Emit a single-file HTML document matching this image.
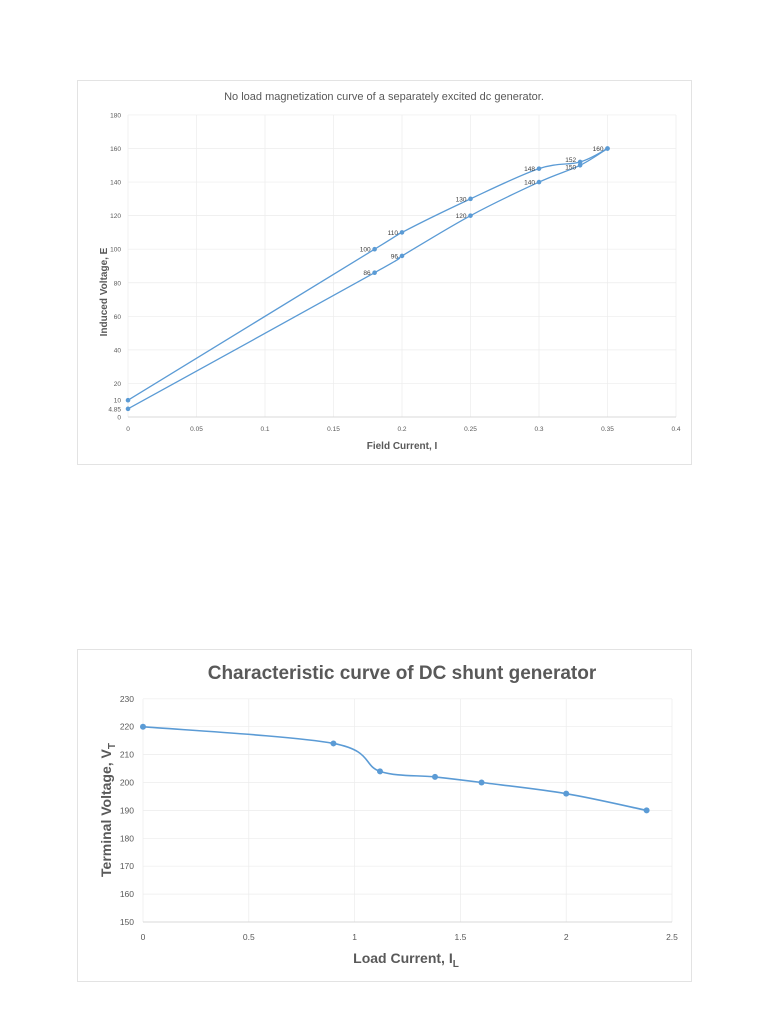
<!DOCTYPE html>
<html><head><meta charset="utf-8"><style>
html,body{margin:0;padding:0;background:#fff;}
svg{display:block;font-family:"Liberation Sans",sans-serif;}
</style></head><body>
<svg id="s" width="768" height="1024" viewBox="0 0 768 1024" xmlns="http://www.w3.org/2000/svg">
<rect x="0" y="0" width="768" height="1024" fill="#fff"/>
<rect x="77.5" y="80.5" width="614" height="384" fill="#fff" stroke="#e3e3e3"/>
<rect x="77.5" y="649.5" width="614" height="332" fill="#fff" stroke="#e3e3e3"/>
<g id="g1"></g>
<g id="g2"></g>
<text x="384" y="100" font-size="11" fill="#595959" text-anchor="middle">No load magnetization curve of a separately excited dc generator.</text>
<text x="402" y="449" font-size="10" font-weight="bold" fill="#595959" text-anchor="middle">Field Current, I</text>
<text transform="translate(107,292) rotate(-90)" font-size="10" font-weight="bold" fill="#595959" text-anchor="middle">Induced Voltage, E</text>
<text x="402" y="679" font-size="19" font-weight="bold" fill="#595959" text-anchor="middle">Characteristic curve of DC shunt generator</text>
<text x="406" y="963" font-size="14" font-weight="bold" fill="#595959" text-anchor="middle">Load Current, I<tspan font-size="10" dy="4">L</tspan></text>
<text transform="translate(111,810) rotate(-90)" font-size="14" font-weight="bold" fill="#595959" text-anchor="middle">Terminal Voltage, V<tspan font-size="10" dy="4">T</tspan></text>
</svg>
<script>
var NS="http://www.w3.org/2000/svg";
function el(p,t,a,txt){var e=document.createElementNS(NS,t);for(var k in a)e.setAttribute(k,a[k]);if(txt!==undefined)e.textContent=txt;p.appendChild(e);return e;}
function cr(pts){var d="M"+pts[0][0]+","+pts[0][1];for(var i=0;i<pts.length-1;i++){var p0=pts[i-1]||pts[i],p1=pts[i],p2=pts[i+1],p3=pts[i+2]||p2;var t=6;d+=" C"+(p1[0]+(p2[0]-p0[0])/t)+","+(p1[1]+(p2[1]-p0[1])/t)+" "+(p2[0]-(p3[0]-p1[0])/t)+","+(p2[1]-(p3[1]-p1[1])/t)+" "+p2[0]+","+p2[1];}return d;}
var g=document.getElementById("g1");
function X1(v){return 128+v*1370;} function Y1(v){return 417-v*1.678;}
for(var i=0;i<=8;i++){var x=X1(i*0.05);el(g,"line",{x1:x,x2:x,y1:115,y2:417,stroke:"#ececec","stroke-width":0.7});el(g,"text",{x:x,y:431,"font-size":6.5,fill:"#595959","text-anchor":"middle"},i==0?"0":String(+(i*0.05).toFixed(2)));}
for(var v=0;v<=180;v+=20){var y=Y1(v);el(g,"line",{x1:128,x2:676,y1:y,y2:y,stroke:"#ececec","stroke-width":0.7});if(v!=0&&v!=10)el(g,"text",{x:121,y:y+2.5,"font-size":6.5,fill:"#595959","text-anchor":"end"},v);}
el(g,"text",{x:121,y:Y1(0)+2.5,"font-size":6.5,fill:"#595959","text-anchor":"end"},"0");
el(g,"text",{x:121,y:Y1(10)+2.5,"font-size":6.5,fill:"#595959","text-anchor":"end"},"10");
el(g,"text",{x:121,y:Y1(4.85)+2.5,"font-size":6.5,fill:"#595959","text-anchor":"end"},"4.85");
el(g,"line",{x1:128,x2:676,y1:417,y2:417,stroke:"#d0d0d0","stroke-width":0.8});
var up=[[0,10],[0.18,100],[0.2,110],[0.25,130],[0.3,148],[0.33,152],[0.35,160]];
var lo=[[0,4.85],[0.18,86],[0.2,96],[0.25,120],[0.3,140],[0.33,150],[0.35,160]];
[up,lo].forEach(function(s,si){var p=s.map(function(q){return [X1(q[0]),Y1(q[1])];});el(g,"path",{d:cr(p),fill:"none",stroke:"#5b9bd5","stroke-width":1.3});p.forEach(function(q,j){el(g,"circle",{cx:q[0],cy:q[1],r:2.3,fill:"#5b9bd5"});if(s[j][0]>0&&!(si==1&&j==6))el(g,"text",{x:q[0]-4,y:q[1]+(si==0&&j==5?0:(si==1&&j==5?4:2.5)),"font-size":6.5,fill:"#404040","text-anchor":"end"},s[j][1]);});});
g=document.getElementById("g2");
function X2(v){return 143+v*211.6;} function Y2(v){return 922-(v-150)*2.79;}
for(var i=0;i<=5;i++){var x=X2(i*0.5);el(g,"line",{x1:x,x2:x,y1:699,y2:922,stroke:"#ececec","stroke-width":0.7});el(g,"text",{x:x,y:940,"font-size":8.5,fill:"#595959","text-anchor":"middle"},String(i*0.5));}
for(var v=150;v<=230;v+=10){var y=Y2(v);el(g,"line",{x1:143,x2:672,y1:y,y2:y,stroke:"#ececec","stroke-width":0.7});el(g,"text",{x:134,y:y+3,"font-size":8.5,fill:"#595959","text-anchor":"end"},v);}
el(g,"line",{x1:143,x2:672,y1:922,y2:922,stroke:"#d0d0d0","stroke-width":0.8});
var d2=[[0,220],[0.9,214],[1.12,204],[1.38,202],[1.6,200],[2,196],[2.38,190]].map(function(q){return [X2(q[0]),Y2(q[1])];});
el(g,"path",{d:cr(d2),fill:"none",stroke:"#5b9bd5","stroke-width":1.6});
d2.forEach(function(q){el(g,"circle",{cx:q[0],cy:q[1],r:3,fill:"#5b9bd5"});});
</script>
</body></html>
